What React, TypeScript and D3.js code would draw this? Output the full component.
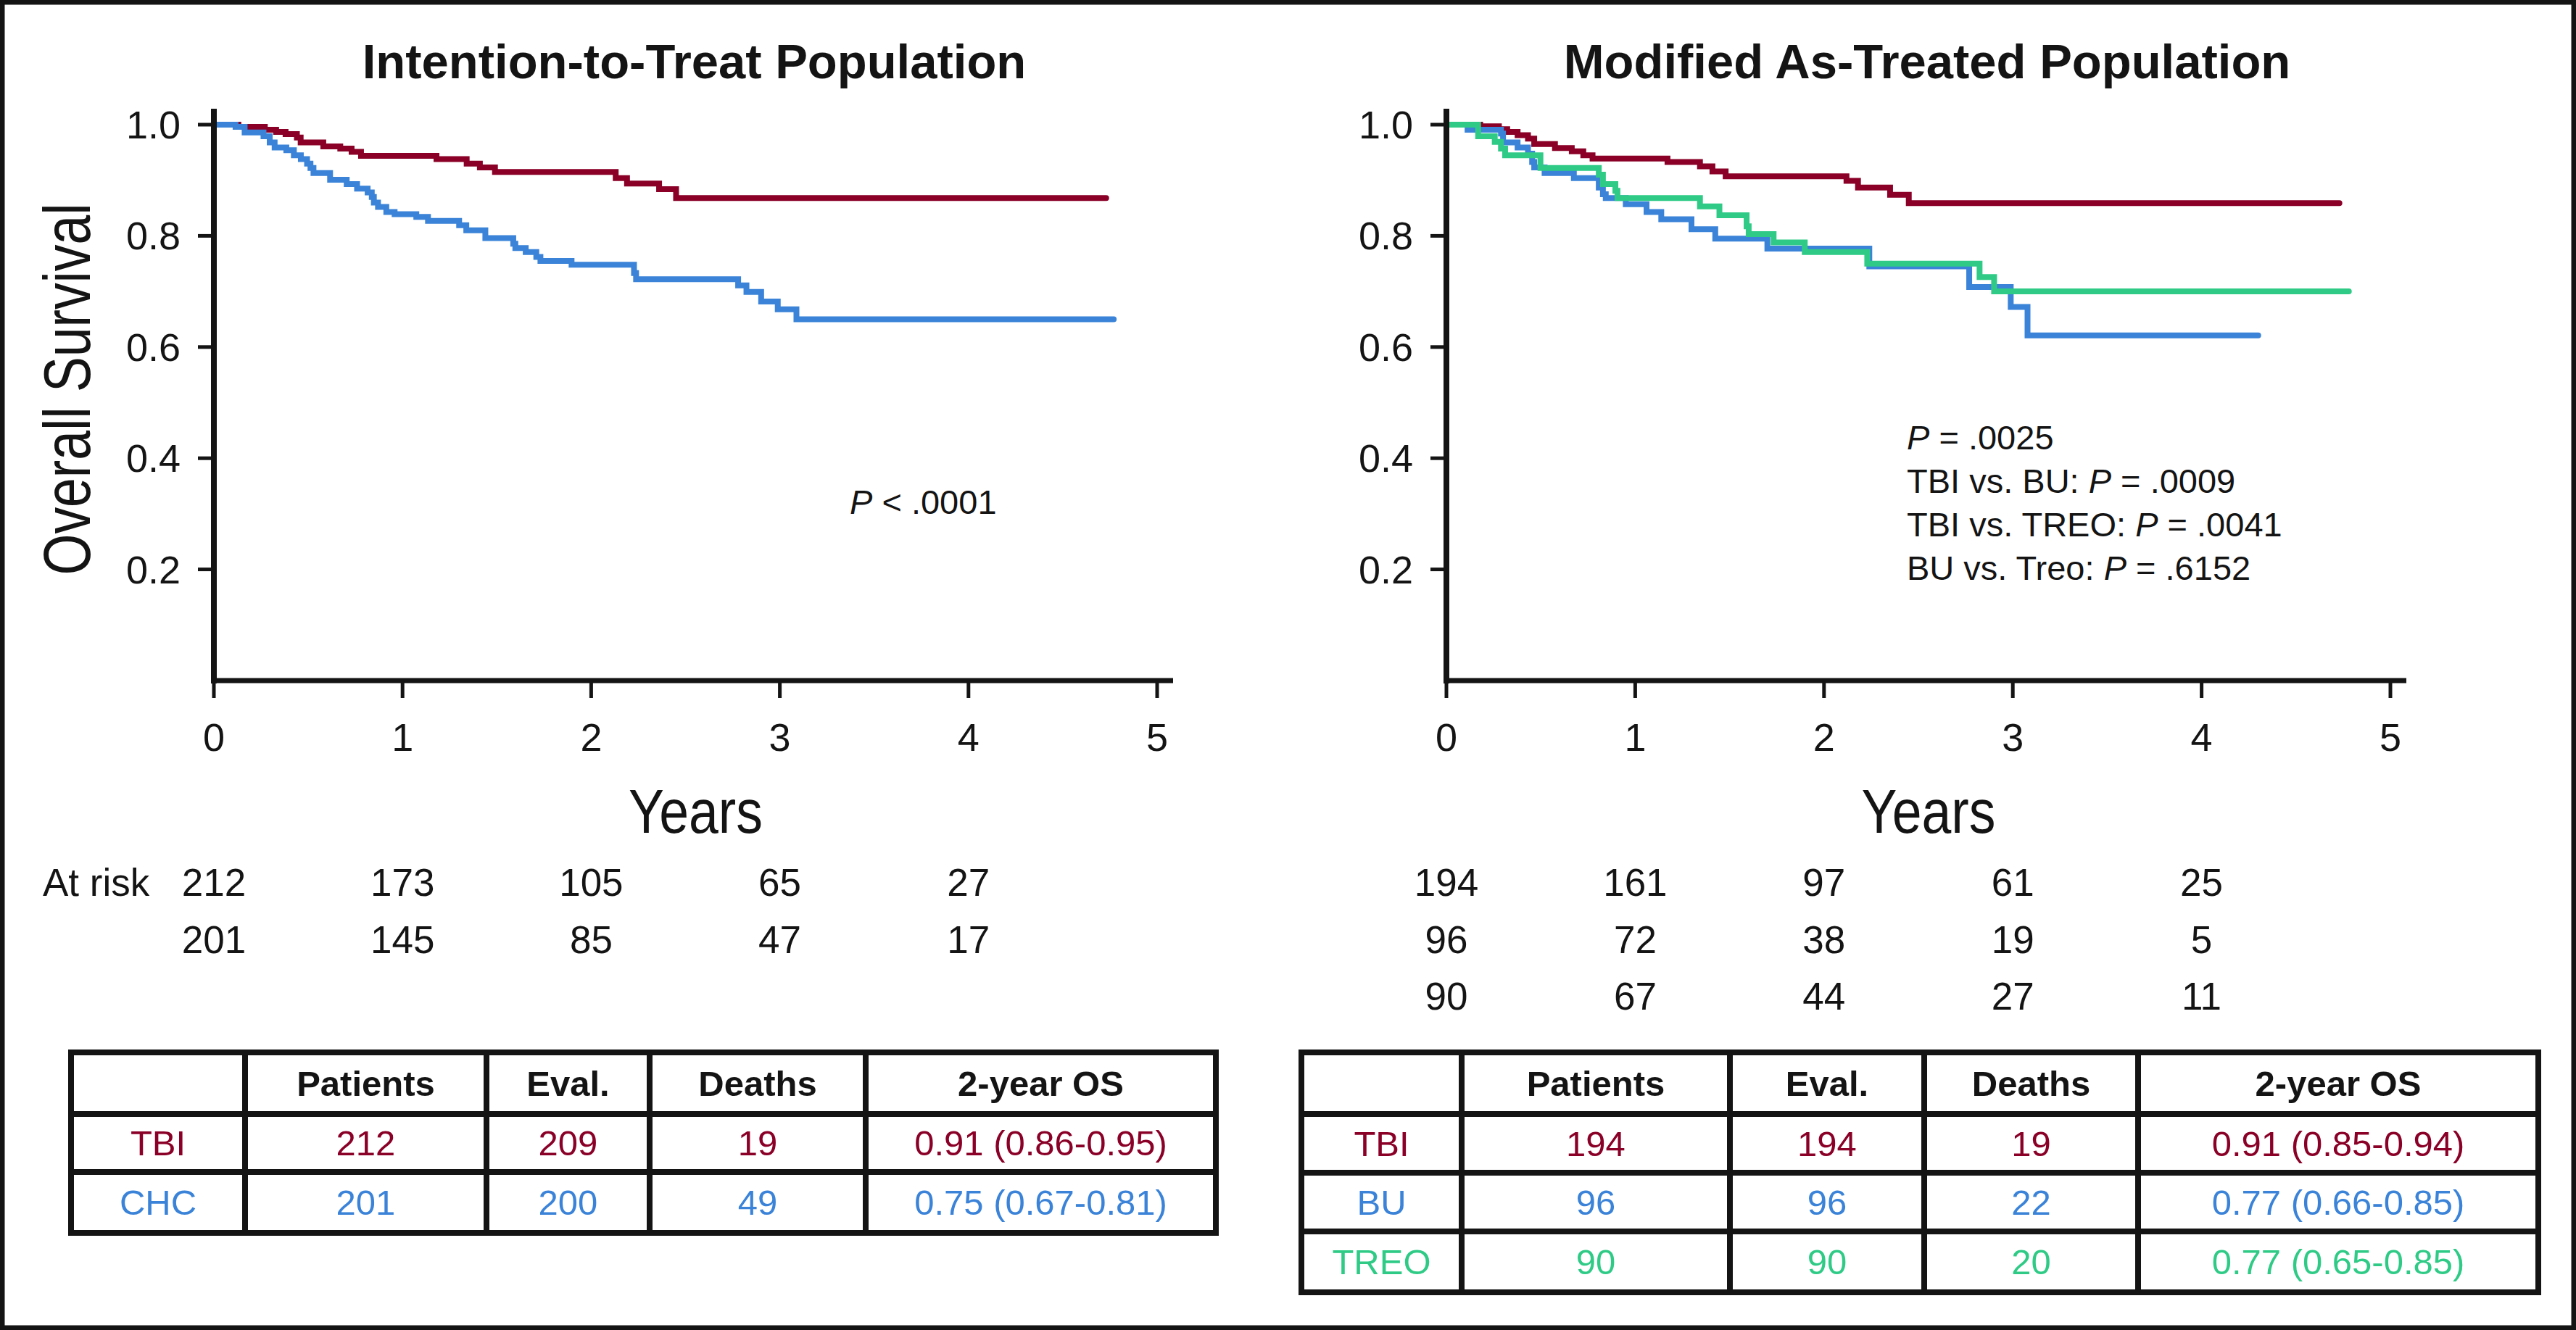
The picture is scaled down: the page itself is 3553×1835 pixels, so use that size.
import * as d3 from 'd3';
import { useEffect } from 'react';

const WIDTH = 3553, HEIGHT = 1835;

const RED = '#8a0027';
const BLUE = '#3a83d8';
const GREEN = '#2fcb86';
const INK = '#141414';

const yearTicks = [0, 1, 2, 3, 4, 5];
const survivalTicks = [0.2, 0.4, 0.6, 0.8, 1.0];

// Intention-to-treat population
const ittTbiTime = [0, 0.13, 0.27, 0.33, 0.38, 0.44, 0.46, 0.58, 0.67, 0.73, 0.78, 1.18, 1.34, 1.41, 1.49, 2.13, 2.19, 2.36, 2.45, 4.73];
const ittTbiSurv = [1, 0.996, 0.991, 0.987, 0.983, 0.977, 0.968, 0.961, 0.957, 0.951, 0.944, 0.938, 0.930, 0.923, 0.915, 0.904, 0.894, 0.884, 0.868, 0.868];

const ittChcTime = [0, 0.115, 0.163, 0.263, 0.296, 0.322, 0.384, 0.424, 0.461, 0.494, 0.512, 0.528, 0.616, 0.704, 0.759, 0.815, 0.837, 0.848, 0.870, 0.914, 0.958, 1.073, 1.135, 1.300, 1.338, 1.439, 1.587, 1.598, 1.653, 1.709, 1.731, 1.896, 2.227, 2.238, 2.779, 2.823, 2.901, 2.989, 3.088, 4.77];
const ittChcSurv = [1, 0.996, 0.986, 0.979, 0.968, 0.959, 0.954, 0.945, 0.938, 0.930, 0.922, 0.913, 0.901, 0.893, 0.885, 0.878, 0.870, 0.860, 0.852, 0.843, 0.839, 0.834, 0.827, 0.819, 0.810, 0.796, 0.786, 0.778, 0.771, 0.762, 0.755, 0.748, 0.733, 0.722, 0.711, 0.699, 0.682, 0.668, 0.650, 0.650];

// Modified as-treated population
const matTbiTime = [0, 0.179, 0.278, 0.322, 0.377, 0.432, 0.465, 0.575, 0.664, 0.725, 0.774, 1.171, 1.343, 1.409, 1.479, 2.119, 2.180, 2.350, 2.449, 4.73];
const matTbiSurv = [1, 0.997, 0.992, 0.987, 0.981, 0.975, 0.965, 0.958, 0.952, 0.945, 0.939, 0.933, 0.925, 0.916, 0.907, 0.899, 0.887, 0.874, 0.859, 0.859];

const matBuTime = [0, 0.112, 0.289, 0.300, 0.377, 0.432, 0.454, 0.465, 0.520, 0.675, 0.807, 0.829, 0.844, 0.950, 1.060, 1.138, 1.298, 1.424, 1.700, 2.240, 2.769, 2.989, 3.078, 4.30];
const matBuSurv = [1, 0.991, 0.984, 0.968, 0.959, 0.948, 0.933, 0.923, 0.913, 0.904, 0.887, 0.875, 0.868, 0.857, 0.843, 0.830, 0.812, 0.795, 0.777, 0.745, 0.708, 0.672, 0.621, 0.621];

const matTreoTime = [0, 0.168, 0.256, 0.289, 0.311, 0.498, 0.807, 0.829, 0.895, 0.906, 1.343, 1.446, 1.590, 1.601, 1.733, 1.898, 2.229, 2.824, 2.901, 4.78];
const matTreoSurv = [1, 0.979, 0.969, 0.957, 0.945, 0.922, 0.910, 0.893, 0.881, 0.868, 0.853, 0.837, 0.817, 0.803, 0.788, 0.771, 0.750, 0.726, 0.700, 0.700];

// numbers at risk
const ittAtRiskTbi = [212, 173, 105, 65, 27];
const ittAtRiskChc = [201, 145, 85, 47, 17];
const matAtRiskTbi = [194, 161, 97, 61, 25];
const matAtRiskBu = [96, 72, 38, 19, 5];
const matAtRiskTreo = [90, 67, 44, 27, 11];

// summary tables
const tableHeader = ['', 'Patients', 'Eval.', 'Deaths', '2-year OS'];
const ittGroups = ['TBI', 'CHC'];
const ittPatients = [212, 201];
const ittEval = [209, 200];
const ittDeaths = [19, 49];
const ittOs = ['0.91 (0.86-0.95)', '0.75 (0.67-0.81)'];
const matGroups = ['TBI', 'BU', 'TREO'];
const matPatients = [194, 96, 90];
const matEval = [194, 96, 90];
const matDeaths = [19, 22, 20];
const matOs = ['0.91 (0.85-0.94)', '0.77 (0.66-0.85)', '0.77 (0.65-0.85)'];

const ittP = '< .0001';
const matPLabels = ['', 'TBI vs. BU: ', 'TBI vs. TREO: ', 'BU vs. Treo: '];
const matPValues = ['= .0025', '= .0009', '= .0041', '= .6152'];

const SANS = '"Liberation Sans", Arial, Helvetica, sans-serif';
const NARROW = '"Liberation Sans Narrow", "Arial Narrow", "Liberation Sans", sans-serif';

const y = d3.scaleLinear().domain([0, 1]).range([939, 172]);

type Curve = { time: number[]; surv: number[]; color: string };

function Panel({ x0, x1, title, curves, atRisk, atRiskLabel }:
    { x0: number; x1: number; title: string; curves: Curve[]; atRisk: number[][]; atRiskLabel: boolean }) {
    const x = d3.scaleLinear().domain([0, 5]).range([x0, x1]);
    const line = d3.line<[number, number]>()
        .x(d => x(d[0]))
        .y(d => y(d[1]))
        .curve(d3.curveStepAfter);
    const mid = (x0 + x1) / 2;

    return (
        <g>
            <text x={mid + 12} y={108} textAnchor="middle" fontFamily={SANS} fontWeight="bold" fontSize={67} fill={INK}>{title}</text>

            {curves.map((c, i) => (
                <path key={i} d={line(c.time.map((t, j) => [t, c.surv[j]] as [number, number])) || ''}
                    fill="none" stroke={c.color} strokeWidth={8} strokeLinejoin="miter" strokeLinecap="round" />
            ))}

            {/* axes */}
            <line x1={x0} x2={x0} y1={150} y2={943} stroke={INK} strokeWidth={8} />
            <line x1={x0 - 4} x2={x1 + 22} y1={939} y2={939} stroke={INK} strokeWidth={7} />
            {survivalTicks.map(t => (
                <g key={t}>
                    <line x1={x0 - 22} x2={x0} y1={y(t)} y2={y(t)} stroke={INK} strokeWidth={5} />
                    <text x={x0 - 46} y={y(t) + 19} textAnchor="end" fontFamily={SANS} fontSize={54} fill={INK}>{t.toFixed(1)}</text>
                </g>
            ))}
            {yearTicks.map(t => (
                <g key={t}>
                    <line x1={x(t)} x2={x(t)} y1={939} y2={963} stroke={INK} strokeWidth={5} />
                    <text x={x(t)} y={1036} textAnchor="middle" fontFamily={SANS} fontSize={54} fill={INK}>{t}</text>
                </g>
            ))}
            <text x={mid + 14} y={1149} textAnchor="middle" fontFamily={NARROW} fontSize={86}
                textLength={185} lengthAdjust="spacingAndGlyphs" fill={INK}>Years</text>

            {atRiskLabel && (
                <text x={59} y={1236} fontFamily={SANS} fontSize={53} fill={INK}>At risk</text>
            )}
            {atRisk.map((row, r) => row.map((v, i) => (
                <text key={r + '-' + i} x={x(yearTicks[i])} y={1236 + r * 78.5} textAnchor="middle"
                    fontFamily={SANS} fontSize={53} fill={INK}>{v}</text>
            )))}
        </g>
    );
}

function Table({ colX, rowY, rows, colors }:
    { colX: number[]; rowY: number[]; rows: (string | number)[][]; colors: string[] }) {
    const all = [tableHeader, ...rows];
    return (
        <g>
            {all.map((row, r) => row.map((cell, c) => (
                <text key={r + '-' + c} x={(colX[c] + colX[c + 1]) / 2} y={(rowY[r] + rowY[r + 1]) / 2 + 17}
                    textAnchor="middle" fontFamily={SANS} fontSize={49}
                    fontWeight={r === 0 ? 'bold' : 'normal'} fill={r === 0 ? INK : colors[r - 1]}>{cell}</text>
            )))}
            {rowY.map((yy, i) => (
                <line key={'h' + i} x1={colX[0] - 4} x2={colX[colX.length - 1] + 4} y1={yy} y2={yy} stroke={INK} strokeWidth={8} />
            ))}
            {colX.map((xx, i) => (
                <line key={'v' + i} x1={xx} x2={xx} y1={rowY[0] - 4} y2={rowY[rowY.length - 1] + 4} stroke={INK} strokeWidth={8} />
            ))}
        </g>
    );
}

export default function App() {
    useEffect(() => {
        document.body.style.margin = '0';
    }, []);

    const ittRows = ittGroups.map((g, i) => [g, ittPatients[i], ittEval[i], ittDeaths[i], ittOs[i]]);
    const matRows = matGroups.map((g, i) => [g, matPatients[i], matEval[i], matDeaths[i], matOs[i]]);

    return (
        <svg width={WIDTH} height={HEIGHT} viewBox={`0 0 ${WIDTH} ${HEIGHT}`}
            style={{ position: 'absolute', left: 0, top: 0, display: 'block', background: '#fff' }}>
            <rect x={0} y={0} width={WIDTH} height={HEIGHT} fill="#fff" />
            <rect x={3} y={3} width={WIDTH - 6} height={HEIGHT - 6} fill="none" stroke={INK} strokeWidth={7} />

            <text transform="translate(124,537) rotate(-90)" textAnchor="middle" fontFamily={NARROW}
                fontSize={90} textLength={513} lengthAdjust="spacingAndGlyphs" fill={INK}>Overall Survival</text>

            <Panel x0={295} x1={1596} title="Intention-to-Treat Population" atRiskLabel
                curves={[
                    { time: ittTbiTime, surv: ittTbiSurv, color: RED },
                    { time: ittChcTime, surv: ittChcSurv, color: BLUE },
                ]}
                atRisk={[ittAtRiskTbi, ittAtRiskChc]} />
            <text x={1172} y={709} fontFamily={SANS} fontSize={47} fill={INK} style={{ whiteSpace: 'pre' }}>
                <tspan fontStyle="italic">P</tspan>{' ' + ittP}
            </text>

            <Panel x0={1995} x1={3297} title="Modified As-Treated Population" atRiskLabel={false}
                curves={[
                    { time: matTbiTime, surv: matTbiSurv, color: RED },
                    { time: matBuTime, surv: matBuSurv, color: BLUE },
                    { time: matTreoTime, surv: matTreoSurv, color: GREEN },
                ]}
                atRisk={[matAtRiskTbi, matAtRiskBu, matAtRiskTreo]} />
            {matPLabels.map((lab, i) => (
                <text key={i} x={2630} y={620 + i * 60} fontFamily={SANS} fontSize={47} fill={INK} style={{ whiteSpace: 'pre' }}>
                    {lab}<tspan fontStyle="italic">P</tspan>{' ' + matPValues[i]}
                </text>
            ))}

            <Table colX={[98, 338, 671, 896, 1194, 1677]} rowY={[1452, 1537, 1617, 1701]}
                rows={ittRows} colors={[RED, BLUE]} />
            <Table colX={[1795, 2016, 2386, 2654, 2949, 3501]} rowY={[1452, 1537, 1618, 1699, 1783]}
                rows={matRows} colors={[RED, BLUE, GREEN]} />
        </svg>
    );
}
